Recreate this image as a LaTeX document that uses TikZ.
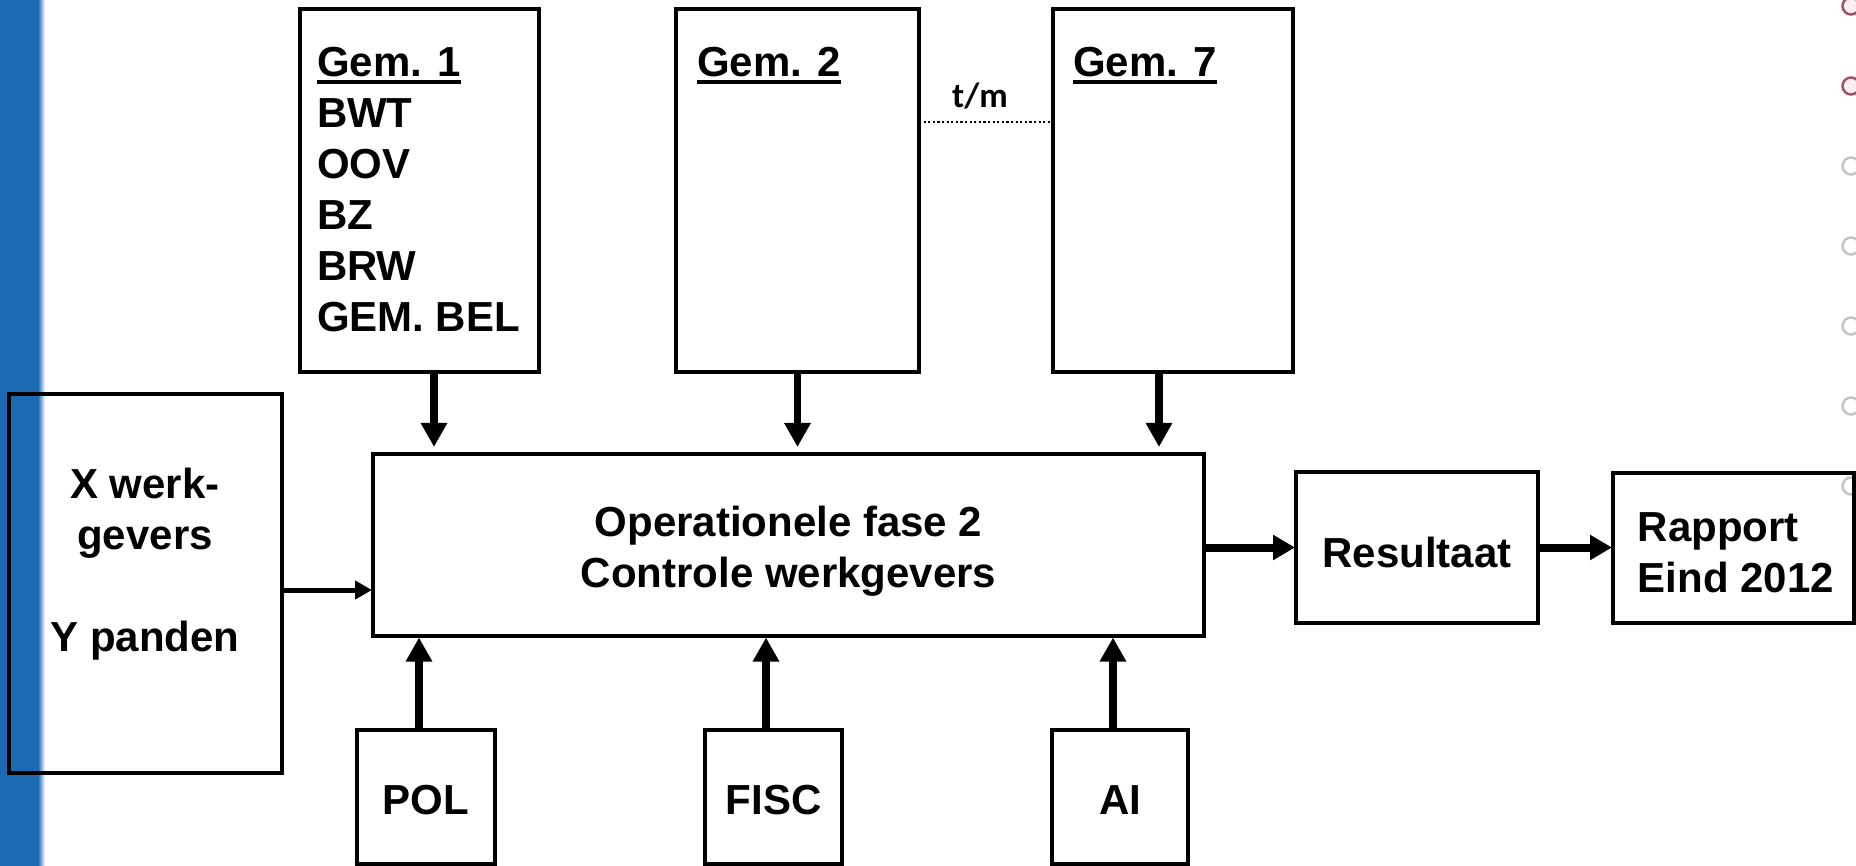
\documentclass[tikz,border=0pt]{standalone}
\usepackage{fontspec}
\setmainfont{Liberation Sans}
\newfontfamily\calfont{Carlito}
\usetikzlibrary{arrows.meta}
\definecolor{barblue}{HTML}{1D6AB4}
\definecolor{circred}{HTML}{9A5566}
\definecolor{circpink}{HTML}{FBEFF2}
\definecolor{circgrey}{HTML}{C4C4C4}
\newsavebox\gembox
\newcommand\gemul[1]{\sbox\gembox{#1}\rlap{\rule[-7.2pt]{\wd\gembox}{3.4pt}}\usebox\gembox}
\tikzset{
  box/.style={draw, line width=3.6pt, inner sep=0pt, outer sep=0pt},
  txt/.style={font=\fontsize{42}{51}\selectfont\bfseries, inner sep=0pt, outer sep=0pt},
  arrv/.style={line width=7.5pt, -{Triangle[length=24pt,width=25pt]}},
  arrl/.style={line width=5pt, -{Triangle[length=17pt,width=18pt]}},
  arrr/.style={line width=8pt, -{Triangle[length=22pt,width=24pt]}},
  tmline/.style={line width=2.2pt, dash pattern=on 2.2pt off 2.4pt},
  bullet/.style={line width=2.5pt, fill=circpink},
}
\begin{document}
\begin{tikzpicture}[x=1pt,y=-1pt]
\useasboundingbox (0,0) rectangle (1856,866);
\fill[white] (0,0) rectangle (1856,866);
% blue side bar
\fill[barblue] (0,0) rectangle (38,866);
\shade[left color=barblue, right color=white] (38,0) rectangle (45,866);
% faint bullets on right edge
\foreach \yy in {6,86} \draw[bullet, draw=circred] (1851,\yy) circle (8.5pt);
\foreach \yy in {166,246,326,406,486} \draw[bullet, draw=circgrey, fill=white] (1851,\yy) circle (8.5pt);

% boxes
\node[box, minimum width=273pt, minimum height=379pt] (lb) at (145.5,583.5) {};
\node[box, minimum width=239pt, minimum height=363pt] (g1) at (419.5,190.5) {};
\node[box, minimum width=243pt, minimum height=363pt] (g2) at (797.5,190.5) {};
\node[box, minimum width=240pt, minimum height=363pt] (g7) at (1173,190.5) {};
\node[box, minimum width=831pt, minimum height=182pt] (cen) at (788.5,545) {};
\node[box, minimum width=242pt, minimum height=151pt] (res) at (1417,547.5) {};
\node[box, minimum width=241pt, minimum height=150pt] (rap) at (1733.5,548) {};
\node[box, minimum width=138pt, minimum height=134pt] (pol) at (426,797) {};
\node[box, minimum width=137pt, minimum height=134pt] (fisc) at (773.5,797) {};
\node[box, minimum width=136pt, minimum height=134pt] (ai) at (1120,797) {};

% texts
\node[txt, align=left, anchor=north west] (g1t) at ([xshift=17pt,yshift=-38pt]g1.north west)
  {\gemul{Gem. 1}\\BWT\\OOV\\BZ\\BRW\\GEM. BEL};
\node[txt, align=left, anchor=north west] (g2t) at ([xshift=21pt,yshift=-38pt]g2.north west) {\gemul{Gem. 2}};
\node[txt, align=left, anchor=north west] (g7t) at ([xshift=20pt,yshift=-38pt]g7.north west) {\gemul{Gem. 7}};
\node[txt, align=center] (lbt) at (145,564) {X werk-\\gevers\\[51pt]Y panden};
\node[txt, align=center] (cent) at (788.5,551.5) {Operationele fase 2\\Controle werkgevers};
\node[txt] (rest) at (1417,552) {Resultaat};
\node[txt, align=left] (rapt) at (1736,552.5) {Rapport\\Eind 2012};
\node[txt] (polt) at (426,800) {POL};
\node[txt] (fisct) at (773.5,800) {FISC};
\node[txt] (ait) at (1120,800) {AI};
\node[font=\calfont\bfseries\fontsize{35}{42}\selectfont, inner sep=0pt] (tm) at (980,96) {t/m};

% dotted link
\draw[tmline] ([yshift=68.5pt]g2.east) -- ([yshift=68.5pt]g2.east -| g7.west);

% arrows
\draw[arrv, shorten >=7pt] ([xshift=14.5pt]g1.south) -- ([xshift=14.5pt]g1.south |- cen.north);
\draw[arrv, shorten >=7pt] (g2.south) -- (g2.south |- cen.north);
\draw[arrv, shorten >=7pt] ([xshift=-14pt]g7.south) -- ([xshift=-14pt]g7.south |- cen.north);
\draw[arrv, shorten >=1.5pt] ([xshift=-7pt]pol.north) -- ([xshift=-7pt]pol.north |- cen.south);
\draw[arrv, shorten >=1.5pt] ([xshift=-7.5pt]fisc.north) -- ([xshift=-7.5pt]fisc.north |- cen.south);
\draw[arrv, shorten >=1.5pt] ([xshift=-7pt]ai.north) -- ([xshift=-7pt]ai.north |- cen.south);
\draw[arrl, shorten >=1pt] ([yshift=-6.5pt]lb.east) -- ([yshift=-6.5pt]lb.east -| cen.west);
\draw[arrr, shorten >=1pt] (cen.east |- res.west) -- (res.west);
\draw[arrr, shorten >=1pt] (res.east) -- (res.east -| rap.west);
\end{tikzpicture}
\end{document}
